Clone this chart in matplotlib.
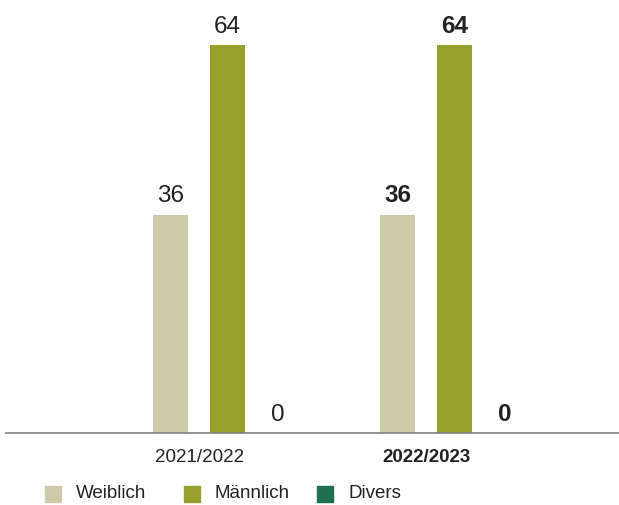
import matplotlib.pyplot as plt
from matplotlib.patches import Rectangle

plt.rcParams['font.family'] = ['Liberation Sans', 'DejaVu Sans']

years    = ['2021/2022', '2022/2023']
series   = ['Weiblich', 'Männlich', 'Divers']
values   = {'Weiblich': [36, 36], 'Männlich': [64, 64], 'Divers': [0, 0]}
colors   = {'Weiblich': '#cec9a8', 'Männlich': '#98a12e', 'Divers': '#217150'}
offsets  = {'Weiblich': -0.251, 'Männlich': 0.0, 'Divers': 0.222}
bold_idx = 1   # latest year shown in bold

W, H = 619, 505
fig = plt.figure(figsize=(W / 100, H / 100), dpi=100)
ax = fig.add_axes([6 / W, (H - 433) / H, (W - 6) / W, 433 / H])

bar_w = 0.154
for s in series:
    for i, v in enumerate(values[s]):
        x = i + offsets[s]
        ax.bar(x, v, width=bar_w, color=colors[s])
        ax.text(x, v + 1.2, str(v), ha='center', va='bottom', fontsize=17.5,
                color='#222222', fontweight='bold' if i == bold_idx else 'normal')

for i, y in enumerate(years):
    ax.text(i - 0.125, -2.6, y, ha='center', va='top', fontsize=13.5,
            color='#222222', fontweight='bold' if i == bold_idx else 'normal')

ax.set_xlim(-0.976, 1.725)
ax.set_ylim(0, 71.4)
ax.set_xticks([])
ax.set_yticks([])
for side in ['top', 'right', 'left']:
    ax.spines[side].set_visible(False)
ax.spines['bottom'].set_color('#808080')
ax.spines['bottom'].set_linewidth(1.2)

# legend drawn by hand (pixel positions of the swatches)
leg_x = [45, 184, 317]
for s, lx in zip(series, leg_x):
    fig.patches.append(Rectangle((lx / W, (H - 502) / H), 16 / W, 16 / H,
                                 transform=fig.transFigure, color=colors[s]))
    fig.text((lx + 31) / W, (H - 494) / H, s, ha='left', va='center',
             fontsize=13.5, color='#222222')

fig.savefig('out.png', dpi=100)
